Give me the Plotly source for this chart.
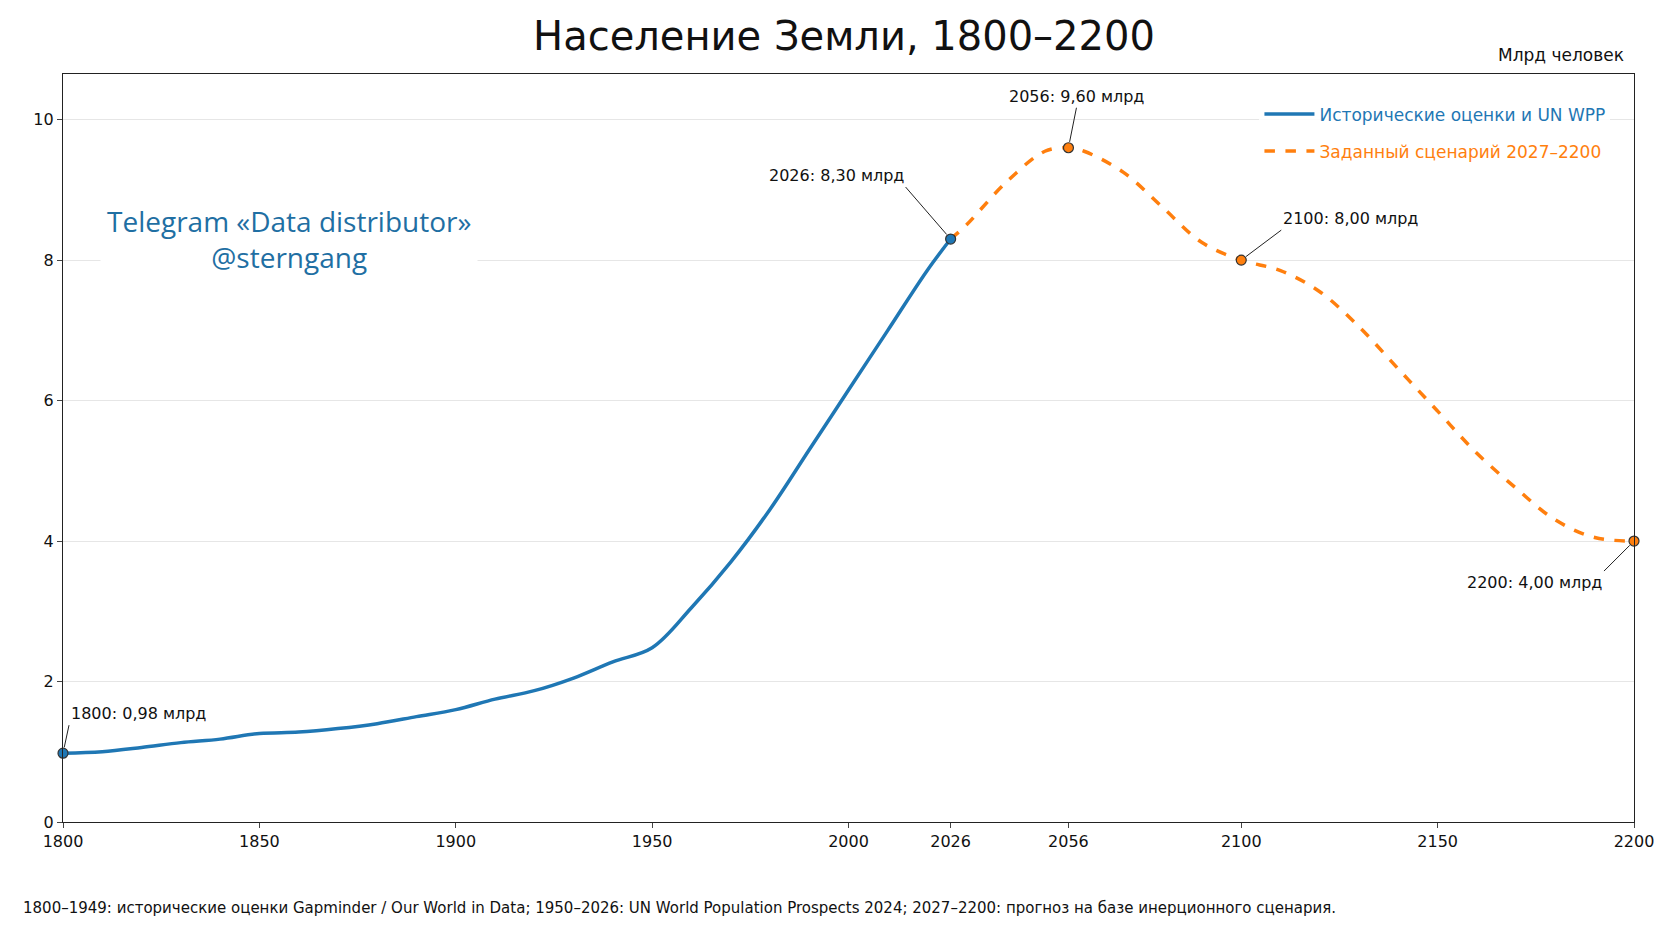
import plotly.graph_objects as go

hist_years = [1800, 1810, 1820, 1830, 1840, 1850, 1860, 1870, 1880, 1890, 1900, 1910, 1920,
              1930, 1940, 1950, 1960, 1970, 1980, 1990, 2000, 2010, 2020, 2026]
hist_pop = [0.98, 1.00, 1.06, 1.13, 1.18, 1.26, 1.28, 1.33, 1.40, 1.50, 1.60, 1.75, 1.87,
            2.05, 2.28, 2.48, 3.05, 3.70, 4.45, 5.30, 6.15, 7.00, 7.85, 8.30]
fc_years = [2026, 2030, 2040, 2050, 2056, 2060, 2070, 2080, 2090, 2100, 2110, 2120, 2130,
            2140, 2150, 2160, 2170, 2180, 2190, 2200]
fc_pop = [8.30, 8.50, 9.10, 9.55, 9.60, 9.55, 9.25, 8.75, 8.25, 8.00, 7.85, 7.55, 7.05,
          6.45, 5.85, 5.25, 4.75, 4.30, 4.05, 4.00]
tick_years = [1800, 1850, 1900, 1950, 2000, 2026, 2056, 2100, 2150, 2200]
marks = [(1800, 0.98, 6, -28), (2026, 8.30, -45, -52), (2056, 9.60, 8, -40),
         (2100, 8.00, 40, -30), (2200, 4.00, -30, 30)]

BLUE = "#1f77b4"
ORANGE = "#ff7f0e"
FONT = "DejaVu Sans"

fig = go.Figure()
fig.add_trace(go.Scatter(x=hist_years, y=hist_pop, mode="lines", legendgroup="a",
                         name=f"<span style='color:{BLUE}'>Исторические оценки и UN WPP</span>",
                         line=dict(color=BLUE, width=3.5, shape="spline")))
fig.add_trace(go.Scatter(x=fc_years, y=fc_pop, mode="lines", legendgroup="b",
                         name=f"<span style='color:{ORANGE}'>Заданный сценарий 2027–2200</span>",
                         line=dict(color=ORANGE, width=3.5, dash="dash", shape="spline")))
mx = [m[0] for m in marks]
my = [m[1] for m in marks]
fig.add_trace(go.Scatter(x=mx, y=my, mode="markers", showlegend=False, cliponaxis=False,
                         marker=dict(size=10, color=[BLUE, BLUE, ORANGE, ORANGE, ORANGE],
                                     line=dict(color="#333", width=1.2))))
for x, y, ax, ay in marks:
    label = f"{x}: {y:.2f}".replace(".", ",") + " млрд"
    if x == 2056:
        xa = "center"
    elif ax > 0:
        xa = "left"
    else:
        xa = "right"
    fig.add_annotation(x=x, y=y, ax=ax, ay=ay, text=label, showarrow=True, arrowhead=0,
                       arrowwidth=1, arrowcolor="#222", standoff=6,
                       xanchor=xa, yanchor="bottom" if ay < 0 else "top",
                       font=dict(size=16, color="#111", family=FONT))

fig.add_annotation(x=0.144, y=0.78, xref="paper", yref="paper", showarrow=False,
                   xanchor="center", yanchor="middle",
                   text="Telegram «Data distributor»<br>@sterngang", bgcolor="white",
                   font=dict(size=28, color="#1f6fa3", family="Open Sans"), borderpad=6)
fig.add_annotation(x=0.995, y=1.01, xref="paper", yref="paper", showarrow=False, text="Млрд человек",
                   xanchor="right", yanchor="bottom", font=dict(size=17, color="#111", family=FONT))
fig.add_annotation(x=-0.027, y=-0.115, xref="paper", yref="paper", showarrow=False,
                   xanchor="left", yanchor="middle",
                   text="1800–1949: исторические оценки Gapminder / Our World in Data; 1950–2026: UN World Population Prospects 2024; 2027–2200: прогноз на базе инерционного сценария.",
                   font=dict(size=15, color="#111", family=FONT))

fig.update_layout(
    width=1672, height=941, plot_bgcolor="white", paper_bgcolor="white",
    margin=dict(l=55, r=46, t=66, b=127),
    title=dict(text="Население Земли, 1800–2200", x=0.5, xanchor="center", y=0.985,
               yanchor="top", font=dict(size=40, color="#111", family=FONT)),
    font=dict(family=FONT, size=16, color="#111"),
    legend=dict(x=0.985, y=0.97, xanchor="right", yanchor="top", bgcolor="rgba(255,255,255,0.85)",
                font=dict(size=17, family=FONT), tracegroupgap=12, itemwidth=50),
    showlegend=True,
)
fig.update_xaxes(range=[1800, 2200], tickvals=tick_years, showgrid=False, showline=True, mirror=True,
                 linecolor="#222", linewidth=1.2, ticks="outside", tickfont=dict(size=16))
fig.update_yaxes(range=[0, 10.65], tickvals=[0, 2, 4, 6, 8, 10], showgrid=True, gridcolor="#e6e6e6",
                 showline=True, mirror=True, linecolor="#222", linewidth=1.2, ticks="outside",
                 zeroline=False, tickfont=dict(size=16))

fig.write_html("out.html")
